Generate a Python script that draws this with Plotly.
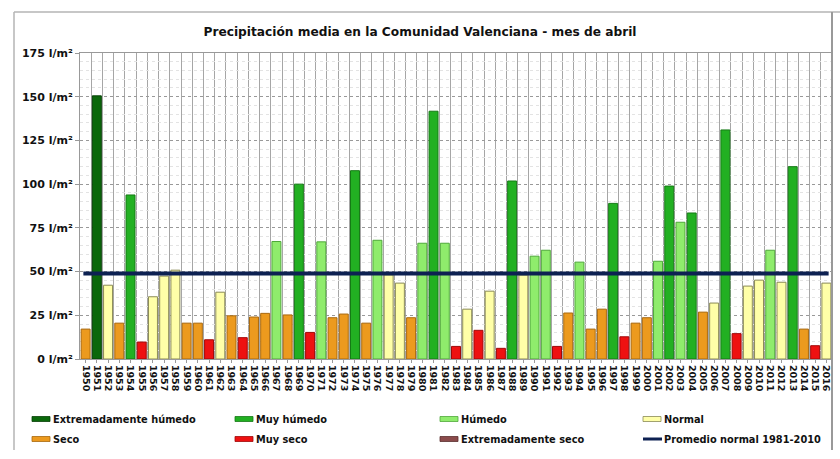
import plotly.graph_objects as go

# precipitacion media de abril, Comunidad Valenciana (l/m2)
years = list(range(1950, 2017))
values = [17.1, 150.5, 42.2, 20.5, 93.8, 9.7, 35.6, 47.4, 50.8, 20.5,
          20.5, 11.0, 38.2, 24.7, 12.2, 24.0, 26.1, 67.2, 25.2, 100.0,
          15.2, 67.0, 23.6, 25.7, 107.7, 20.5, 67.9, 48.1, 43.4, 23.6,
          66.2, 141.7, 66.2, 7.2, 28.5, 16.4, 38.8, 6.1, 101.8, 48.0,
          58.8, 62.2, 7.2, 26.3, 55.4, 17.1, 28.5, 89.0, 12.7, 20.5,
          23.6, 55.9, 98.9, 78.2, 83.5, 26.8, 32.0, 131.0, 14.5, 41.7,
          45.1, 62.2, 43.9, 110.0, 17.1, 7.6, 43.4]
# EH ext. humedo, MH muy humedo, H humedo, N normal, S seco, MS muy seco, ES ext. seco
categories = ["S", "EH", "N", "S", "MH", "MS", "N", "N", "N", "S",
              "S", "MS", "N", "S", "MS", "S", "S", "H", "S", "MH",
              "MS", "H", "S", "S", "MH", "S", "H", "N", "N", "S",
              "H", "MH", "H", "MS", "N", "MS", "N", "MS", "MH", "N",
              "H", "H", "MS", "S", "H", "S", "S", "MH", "MS", "S",
              "S", "H", "MH", "H", "MH", "S", "N", "MH", "MS", "N",
              "N", "H", "N", "MH", "S", "MS", "N"]
normal_mean = 48.9

legend_codes = ["EH", "MH", "H", "N", "S", "MS", "ES"]
legend_names = ["Extremadamente húmedo", "Muy húmedo", "Húmedo", "Normal",
                "Seco", "Muy seco", "Extremadamente seco"]
fill = {"EH": "#0b680b", "MH": "#22b022", "H": "#8fec6c", "N": "#ffffa8",
        "S": "#ec9a1e", "MS": "#ee1111", "ES": "#8b4b4b"}
edge = {"EH": "#064006", "MH": "#157a15", "H": "#4fa83a", "N": "#8a8a55",
        "S": "#a8680e", "MS": "#a00808", "ES": "#5a2e2e"}
line_color = "#0d2152"

FONT = "DejaVu Sans"
L, R, T, B = 80, 8, 53, 100
W, H = 840, 459
pw, ph = W - L - R, H - T - B


def px(x):
    return (x - L) / pw


def py(y):
    return (H - B - y) / ph


fig = go.Figure()
fig.add_trace(go.Bar(
    x=years, y=values, width=0.8,
    marker=dict(color=[fill[c] for c in categories],
                line=dict(color=[edge[c] for c in categories], width=1)),
    showlegend=False,
))
fig.add_trace(go.Scatter(
    x=[years[0] - 0.2, years[-1] + 0.2], y=[normal_mean, normal_mean],
    mode="lines", line=dict(color=line_color, width=4), showlegend=False,
))

shapes = []
annotations = []
# frame around the chart
frame = dict(type="line", xref="paper", yref="paper",
             line=dict(color="#b5b5b5", width=1.5))
shapes.append(dict(frame, x0=px(14), x1=px(14), y0=py(12), y1=py(450)))
shapes.append(dict(frame, x0=px(14), x1=px(840), y0=py(12), y1=py(12)))
shapes.append(dict(frame, x0=px(832), x1=px(832), y0=py(12), y1=py(450),
                   line=dict(color="#999999", width=2)))

# hand made legend, 4 columns x 2 rows
col_x = [32, 235, 440, 643]
row_y = [419, 439]
items = list(zip(legend_codes, legend_names)) + [("LINE", "Promedio normal 1981-2010")]
for i, (code, name) in enumerate(items):
    x0 = col_x[i % 4]
    yc = row_y[i // 4]
    if code == "LINE":
        shapes.append(dict(type="rect", xref="paper", yref="paper",
                           x0=px(x0), x1=px(x0 + 19), y0=py(yc + 1.5), y1=py(yc - 1.5),
                           fillcolor=line_color, line=dict(width=0)))
    else:
        shapes.append(dict(type="rect", xref="paper", yref="paper",
                           x0=px(x0), x1=px(x0 + 18), y0=py(yc + 2.5), y1=py(yc - 2.5),
                           fillcolor=fill[code], line=dict(color=edge[code], width=0.8)))
    annotations.append(dict(xref="paper", yref="paper", x=px(x0 + 19), y=py(yc),
                            xanchor="left", yanchor="middle", showarrow=False,
                            text=name, font=dict(family=FONT, size=9.8, color="#111",
                                                 weight="bold")))

fig.update_layout(
    width=W, height=H,
    margin=dict(l=L, r=R, t=T, b=B),
    paper_bgcolor="white", plot_bgcolor="white",
    title=dict(text="Precipitación media en la Comunidad Valenciana - mes de abril",
               x=0.5, xanchor="center", y=1 - 31.5 / H, yanchor="middle",
               font=dict(family=FONT, size=12.2, color="#111", weight="bold")),
    bargap=0.2,
    shapes=shapes,
    annotations=annotations,
)
fig.update_xaxes(
    range=[years[0] - 0.5, years[-1] + 0.5],
    tickmode="array", tickvals=years, ticktext=[str(y) for y in years],
    tickangle=90, showgrid=False,
    tickfont=dict(family=FONT, size=9.5, color="#111", weight="bold"),
    ticks="outside", ticklen=3, tickcolor="#999",
    minor=dict(tickmode="linear", tick0=years[0] - 0.5, dtick=1,
               showgrid=True, gridcolor="#a6a6a6", gridwidth=1),
    showline=True, linecolor="#999", linewidth=1, mirror=True,
    zeroline=False,
)
fig.update_yaxes(
    range=[0, 175], tickmode="linear", tick0=0, dtick=25,
    ticksuffix=" l/m²",
    tickfont=dict(family=FONT, size=11, color="#111", weight="bold"),
    ticks="outside", ticklen=4, tickcolor="#999",
    showgrid=True, gridcolor="#999999", griddash="dot", gridwidth=1,
    minor=dict(dtick=5, showgrid=True, gridcolor="#e3e3e3"),
    showline=True, linecolor="#999", linewidth=1, mirror=True,
    zeroline=False,
)

# the page has a default body margin, drop it so the figure sits at 0,0
fig.write_html("out.html", config={"displayModeBar": False},
               post_script="document.body.style.margin='0';")
